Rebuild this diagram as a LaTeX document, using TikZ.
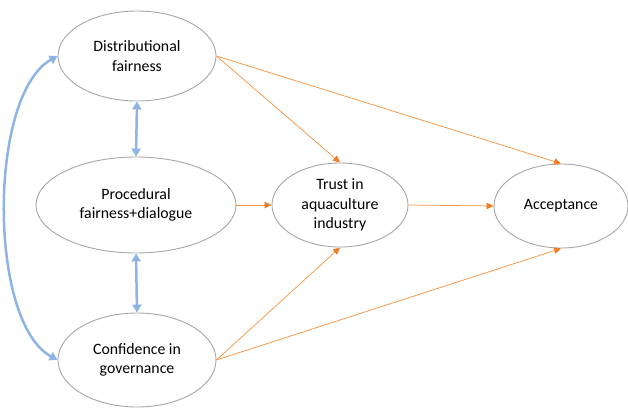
\documentclass[tikz,border=0pt]{standalone}
\usepackage{fontspec}
\setmainfont{Carlito}
\usetikzlibrary{shapes.geometric,arrows.meta}
\definecolor{ellgray}{RGB}{166,166,166}
\definecolor{orangeline}{RGB}{247,150,70}
\definecolor{orangetip}{RGB}{240,125,40}
\definecolor{blueline}{RGB}{141,180,226}
\tikzset{
  oval/.style={ellipse, draw=ellgray, line width=0.9pt, inner sep=0pt, align=center,
    font=\fontsize{15.8}{19.3}\selectfont},
  orarrow/.style={draw=orangeline, line width=0.75pt, -{Triangle[length=7pt,width=6.5pt,color=orangetip]}},
  bluearrow/.style={draw=blueline, line width=2.5pt, {Triangle[length=8pt,width=9pt]}-{Triangle[length=8pt,width=9pt]}}
}
\begin{document}
\begin{tikzpicture}[x=1pt,y=-1pt]
\useasboundingbox (0,0) rectangle (628,407);
\node[oval, minimum width=158pt, minimum height=90pt] (dist) at (137,56) {Distributional\\fairness};
\node[oval, minimum width=200pt, minimum height=96pt] (proc) at (136,205) {Procedural\\fairness+dialogue};
\node[oval, minimum width=158pt, minimum height=94pt] (conf) at (137,360) {Confidence in\\governance};
\node[oval, minimum width=136pt, minimum height=84pt] (trust) at (340,205) {Trust in\\aquaculture\\industry};
\node[oval, minimum width=134pt, minimum height=84pt] (acc) at (561,206) {Acceptance};

\draw[bluearrow] (dist.south) -- (proc.north);
\draw[bluearrow] (proc.south) -- (conf.north);
\draw[bluearrow] (dist.west) .. controls (-12,95) and (-12,322) .. (conf.west);

\draw[orarrow] (dist.east) -- (trust.north);
\draw[orarrow] (dist.east) -- (acc.north);
\draw[orarrow] (proc.east) -- (trust.west);
\draw[orarrow] (trust.east) -- (acc.west);
\draw[orarrow] (conf.east) -- (trust.south);
\draw[orarrow] (conf.east) -- (acc.south);
\end{tikzpicture}
\end{document}
